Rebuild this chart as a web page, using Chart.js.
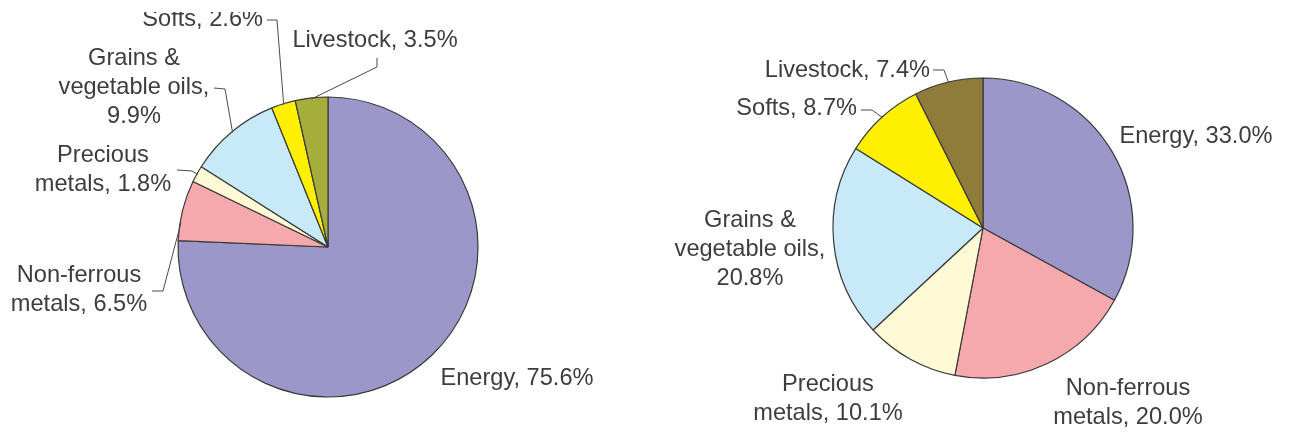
<!DOCTYPE html>
<html>
<head>
<meta charset="utf-8">
<script src="https://cdn.jsdelivr.net/npm/chart.js@4.4.1/dist/chart.umd.min.js"></script>
<style>
  html, body { margin: 0; padding: 0; background: #ffffff; }
  #wrap { position: relative; width: 1289px; height: 432px; }
  #wrap canvas { position: absolute; left: 0; top: 0; }
</style>
</head>
<body>
<div id="wrap">
  <canvas id="pieLeft" width="1289" height="432"></canvas>
  <canvas id="pieRight" width="1289" height="432"></canvas>
</div>
<script>
const categories = ["Energy", "Non-ferrous metals", "Precious metals", "Grains & vegetable oils", "Softs", "Livestock"];
const leftShares = [75.6, 6.5, 1.8, 9.9, 2.6, 3.5];
const rightShares = [33.0, 20.0, 10.1, 20.8, 8.7, 7.4];

const leftColors = ["#9b97c9", "#f5a9ad", "#fffad6", "#c7e9f8", "#ffef00", "#a6ae3b"];
const rightColors = ["#9b97c9", "#f5a9ad", "#fffad6", "#c7e9f8", "#ffef00", "#8f7c3b"];

const TEXT_COLOR = "#3d3d3d";
const FONT = "23.6px 'Liberation Sans', Arial, sans-serif";
const LINE_H = 29;

// label text = "<category>, <share>%", broken after the given word counts
function labelLines(i, shares, breaks) {
    const words = (categories[i] + ", " + shares[i].toFixed(1) + "%").split(" ");
    const lines = [];
    let start = 0;
    breaks.concat([words.length]).forEach(b => {
        lines.push(words.slice(start, b).join(" "));
        start = b;
    });
    return lines;
}

// one label plugin per chart, items kept in the closure (not in chart options)
function sliceLabels(items, clipTop) {
    return {
        id: "sliceLabels",
        afterDraw(chart) {
            const ctx = chart.ctx;
            const shares = chart.data.datasets[0].data;
            const arcs = chart.getDatasetMeta(0).data;
            ctx.save();
            if (clipTop) {
                ctx.beginPath();
                ctx.rect(0, clipTop, chart.width, chart.height - clipTop);
                ctx.clip();
            }
            ctx.font = FONT;
            ctx.fillStyle = TEXT_COLOR;
            ctx.textBaseline = "middle";
            items.forEach(it => {
                const lines = labelLines(it.i, shares, it.breaks || []);
                ctx.textAlign = it.align || "center";
                lines.forEach((t, k) => ctx.fillText(t, it.x, it.y + k * LINE_H));

                if (it.leader) {
                    const arc = arcs[it.i];
                    const a = arc.startAngle + (arc.endAngle - arc.startAngle) * it.at;
                    const r = arc.outerRadius - 1;
                    const ex = arc.x + Math.cos(a) * r;
                    const ey = arc.y + Math.sin(a) * r;
                    ctx.beginPath();
                    ctx.strokeStyle = "#4a4a4a";
                    ctx.lineWidth = 1;
                    ctx.moveTo(it.leader[0][0], it.leader[0][1]);
                    for (let k = 1; k < it.leader.length; k++) ctx.lineTo(it.leader[k][0], it.leader[k][1]);
                    ctx.lineTo(ex, ey);
                    ctx.stroke();
                }
            });
            ctx.restore();
        }
    };
}

function makePie(canvasId, shares, colors, padding, labelItems, clipTop) {
    return new Chart(document.getElementById(canvasId), {
        type: "pie",
        data: {
            labels: categories,
            datasets: [{
                data: shares,
                backgroundColor: colors,
                borderColor: "#3a3a3a",
                borderWidth: 1.2
            }]
        },
        options: {
            responsive: false,
            animation: false,
            radius: 150,
            layout: { padding: padding },
            plugins: {
                legend: { display: false },
                tooltip: { enabled: false }
            }
        },
        plugins: [sliceLabels(labelItems, clipTop)]
    });
}

makePie("pieLeft", leftShares, leftColors,
    { left: 177, right: 810, top: 96, bottom: 34 },
    [
        { i: 0, x: 517, y: 378 },
        { i: 1, x: 79, y: 275, breaks: [1], leader: [[152, 291], [163, 291]], at: 0.3 },
        { i: 2, x: 103, y: 155, breaks: [1], leader: [[177, 170], [192, 171]], at: 0.5 },
        { i: 3, x: 134, y: 58, breaks: [2, 4], leader: [[214, 88], [225, 89]], at: 0.5 },
        { i: 4, x: 263, y: 19, align: "right", leader: [[267, 20], [277, 20]], at: 0.5 },
        { i: 5, x: 375, y: 40, leader: [[377, 58], [377, 67]], at: 0.5 }
    ], 12);

makePie("pieRight", rightShares, rightColors,
    { left: 832, right: 155, top: 77, bottom: 53 },
    [
        { i: 0, x: 1196, y: 136 },
        { i: 1, x: 1128, y: 388, breaks: [1] },
        { i: 2, x: 828, y: 384, breaks: [1] },
        { i: 3, x: 750, y: 220, breaks: [2, 4] },
        { i: 4, x: 857, y: 108, align: "right", leader: [[861, 110], [872, 110]], at: 0.5 },
        { i: 5, x: 930, y: 70, align: "right", leader: [[933, 70], [944, 70]], at: 0.5 }
    ], 0);
</script>
</body>
</html>
